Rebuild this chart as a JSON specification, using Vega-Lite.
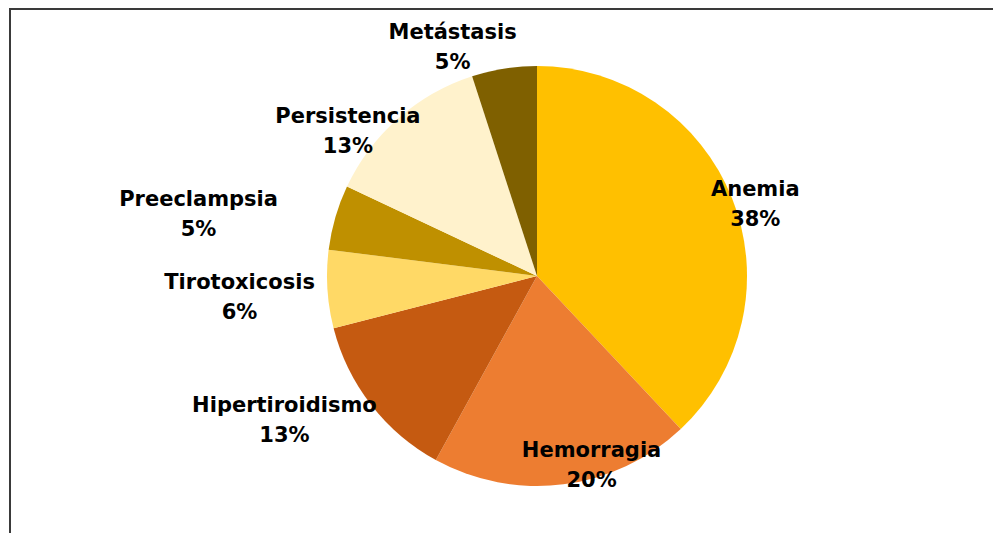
{
  "$schema": "https://vega.github.io/schema/vega-lite/v6.json",
  "width": 993,
  "height": 533,
  "autosize": {"type": "fit", "contains": "padding"},
  "padding": {"left": 9, "top": 8, "right": -72, "bottom": -11},
  "background": "white",
  "config": {"view": {"stroke": null}},
  "data": {
    "values": [
      {"categoria": "Anemia", "valor": 0.38, "orden": 1},
      {"categoria": "Hemorragia", "valor": 0.20, "orden": 2},
      {"categoria": "Hipertiroidismo", "valor": 0.13, "orden": 3},
      {"categoria": "Tirotoxicosis", "valor": 0.06, "orden": 4},
      {"categoria": "Preeclampsia", "valor": 0.05, "orden": 5},
      {"categoria": "Persistencia", "valor": 0.13, "orden": 6},
      {"categoria": "Metástasis", "valor": 0.05, "orden": 7}
    ]
  },
  "layer": [
    {
      "data": {"values": [{"marco": 1}]},
      "mark": {"type": "rect", "fill": null, "stroke": "#3a3a3a", "strokeWidth": 2},
      "encoding": {
        "x": {"value": 0},
        "x2": {"value": "width"},
        "y": {"value": 0},
        "y2": {"value": "height"}
      }
    },
    {
      "mark": {"type": "arc", "outerRadius": 210},
      "encoding": {
        "theta": {"field": "valor", "type": "quantitative", "stack": true},
        "order": {"field": "orden", "type": "quantitative"},
        "color": {
          "field": "categoria",
          "type": "nominal",
          "scale": {
            "domain": ["Anemia", "Hemorragia", "Hipertiroidismo", "Tirotoxicosis", "Preeclampsia", "Persistencia", "Metástasis"],
            "range": ["#FFC000", "#ED7D31", "#C55A11", "#FFD966", "#BF9000", "#FFF2CC", "#7F6000"]
          },
          "legend": null
        }
      }
    },
    {
      "mark": {
        "type": "text",
        "font": "DejaVu Sans",
        "fontWeight": "bold",
        "fontSize": 21,
        "color": "#000000",
        "radius": {"expr": "[224,196,288,298,342,233,239][datum.orden-1]"},
        "dx": {"expr": "[10,30,-25,0,-10,-35,-47][datum.orden-1]"},
        "dy": {"expr": "[11,-4,-32,3,34,31,8][datum.orden-1] - 15"}
      },
      "encoding": {
        "theta": {"field": "valor", "type": "quantitative", "stack": true},
        "order": {"field": "orden", "type": "quantitative"},
        "text": {"field": "categoria", "type": "nominal"}
      }
    },
    {
      "mark": {
        "type": "text",
        "font": "DejaVu Sans",
        "fontWeight": "bold",
        "fontSize": 21,
        "color": "#000000",
        "radius": {"expr": "[224,196,288,298,342,233,239][datum.orden-1]"},
        "dx": {"expr": "[10,30,-25,0,-10,-35,-47][datum.orden-1]"},
        "dy": {"expr": "[11,-4,-32,3,34,31,8][datum.orden-1] + 15"}
      },
      "encoding": {
        "theta": {"field": "valor", "type": "quantitative", "stack": true},
        "order": {"field": "orden", "type": "quantitative"},
        "text": {"field": "valor", "type": "quantitative", "format": ".0%"}
      }
    }
  ]
}
